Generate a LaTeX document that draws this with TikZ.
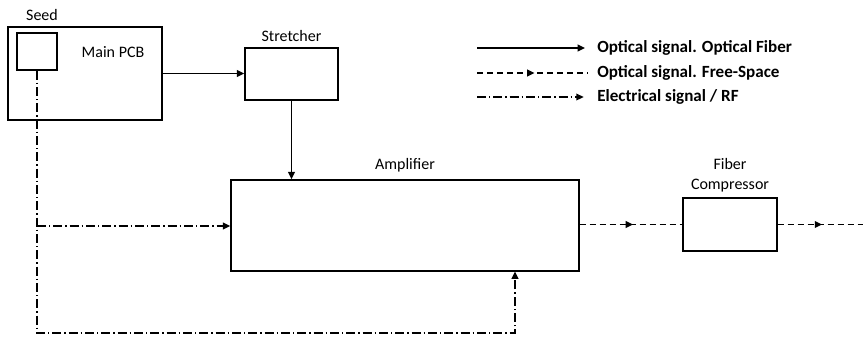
\documentclass[tikz,border=0pt]{standalone}
\usepackage{fontspec}
\setmainfont{Carlito}
\usetikzlibrary{positioning, arrows.meta, decorations.markings}

\begin{document}
\begin{tikzpicture}[
        x=0.75pt, y=-0.75pt,
        box/.style={rectangle, draw=black, line width=1.1pt, inner sep=0pt},
        lbl/.style={font=\fontsize{12}{14.5}\selectfont, align=center},
        legtext/.style={font=\fontsize{12.8}{15}\selectfont\bfseries, anchor=west, inner sep=0pt},
        tip/.style={-{Triangle[length=5.5pt, width=5pt]}},
        fiber/.style={tip, line width=1.1pt},
        free/.style={line width=1.1pt, dash pattern=on 4.5pt off 3pt,
            decoration={markings, mark=at position 0.52 with {\arrow{Triangle[length=5.5pt, width=5pt]}}},
            postaction={decorate}},
        elec/.style={tip, line width=1.1pt, dash pattern=on 6.75pt off 2.25pt on 1pt off 2.25pt}
    ]
        \useasboundingbox (0,0) rectangle (863,337);

        % Seed
        \node[box, minimum width=115.5pt, minimum height=69.75pt] (seed) at (85,73.5) {};
        \node[box, minimum width=30pt, minimum height=27.75pt] (pcb) at (37,51.5) {};
        \node[lbl] (seedlbl) at (42,15) {Seed};
        \node[lbl] (pcblbl) at (113,52) {Main PCB};

        % Stretcher and Amplifier
        \node[box, minimum width=69.75pt, minimum height=39pt] (stretch) at (291.5,74) {};
        \node[lbl, above=0.5pt of stretch] (stretchlbl) {Stretcher};
        \node[box, minimum width=261pt, minimum height=68.25pt] (amp) at (405,225.5) {};
        \node[lbl, above=1.5pt of amp] (amplbl) {Amplifier};

        % Compressor
        \node[box, minimum width=70.5pt, minimum height=39.75pt] (comp) at (730,224.5) {};
        \node[lbl, above=0.5pt of comp] (complbl) {Fiber\\Compressor};

        % Optical connections
        \draw[fiber] (seed.east) -- (stretch.west |- seed.east);
        \draw[fiber] (stretch.south) -- (stretch.south |- amp.north);
        \draw[free] (amp.east |- comp.west) -- (comp.west);
        \coordinate (out) at (863,224.5);
        \draw[free] (comp.east) -- (out);

        % Electrical connections
        \coordinate (bend) at (37,333);
        \coordinate (ampin) at (515,271.5);
        \coordinate (tap) at (37,226);
        \draw[elec] (pcb.south) -- (bend) -| (ampin);
        \draw[elec] (tap) -- (tap -| amp.west);

        % Legend
        \node[legtext] (leg1) at (597,48) {Optical signal. Optical Fiber};
        \node[legtext] (leg2) at (597,73) {Optical signal. Free-Space};
        \node[legtext] (leg3) at (597,97) {Electrical signal / RF};
        \coordinate (l1) at (477,48);
        \coordinate (l2) at (477,73);
        \coordinate (l3) at (477,97);
        \draw[fiber] (l1) -- ([xshift=-9pt]leg1.west);
        \draw[free] (l2) -- ([xshift=-7pt]leg2.west);
        \draw[elec] (l3) -- ([xshift=-10pt]leg3.west);
    \end{tikzpicture}
\end{document}
